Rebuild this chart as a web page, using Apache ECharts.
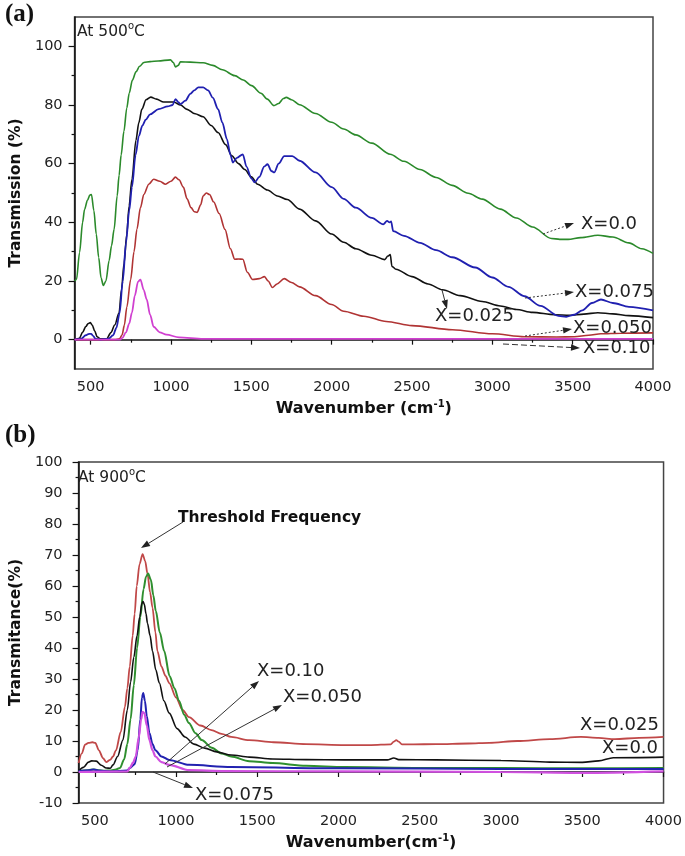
<!DOCTYPE html>
<html>
<head>
<meta charset="utf-8">
<script src="https://cdn.jsdelivr.net/npm/echarts@6/dist/echarts.min.js"></script>
<style>html,body{margin:0;padding:0;background:#fff}#c{width:685px;height:856px}</style>
</head>
<body>
<div id="c"></div>
<script>
// ---------- Panel (a): At 500 °C ----------
const A_WN_X000 = [400,412,431,450,462,480,495,505,520,535,550,565,579,595,615,630,646,665,677,690,707,725,740,760,782,805,831,870,920,997,1015,1028,1045,1059,1120,1200,1260,1320,1397,1450,1502,1560,1600,1640,1670,1700,1717,1750,1800,1900,2000,2075,2150,2250,2364,2450,2550,2650,2750,2850,2937,3050,3150,3250,3368,3420,3472,3550,3657,3750,3850,3930,4000];
const A_T_X000  = [20,20.5,29.7,40,44.4,47.5,49.3,49.5,44,36,28,21,18.5,20,27,32,37.6,49,56,63,71,79,84,88.5,91.3,93.2,94.5,94.8,95,95.4,94.5,93,93.5,94.7,94.6,94.4,93.5,92,90,88.5,86.6,84,82,79.8,80.5,82.2,82.6,81.8,80.1,77.1,74.1,71.8,69.8,67,63.2,60.8,58,55.3,52.6,49.9,47.9,44.5,41.5,38.4,34.5,34.2,34.2,34.8,35.6,35,33,31,29.4];

const A_WN_X025 = [400,430,450,470,485,498,510,525,540,560,600,626,650,677,692,708,725,739,757,782,800,819,845,874,910,954,1016,1060,1096,1150,1200,1250,1293,1340,1379,1420,1459,1500,1539,1600,1662,1724,1800,1900,2000,2075,2150,2250,2330,2350,2365,2375,2400,2500,2600,2690,2800,2937,3050,3150,3250,3388,3480,3570,3657,3750,3850,4000];
const A_T_X025  = [0,0.5,2.5,4.5,5.5,5.8,5,3,1,0.3,0.3,2.4,5,9.2,17,26,36,45.5,54.7,68,74,78.6,81.8,82.7,82,81,81,80,78.6,77,76,73,70.6,66.5,62.7,60,58,55.5,53,51,49,47.8,44.5,40.5,36,33.2,31,28.8,27.3,28.5,29,25,24,21.5,19,17,15,13,11.5,10.3,9.3,8.5,8.3,8.7,9.2,8.8,8.2,7.5];

const A_WN_X050 = [400,650,680,696,710,725,749,770,788,810,831,862,892,930,966,1000,1028,1050,1077,1100,1125,1145,1163,1185,1200,1220,1240,1265,1300,1336,1370,1397,1420,1447,1475,1508,1550,1582,1605,1631,1660,1705,1750,1800,1900,2000,2075,2200,2340,2500,2752,3000,3200,3400,3510,3600,3676,3800,4000];
const A_T_X050  = [0,0,0.3,1.7,5,11,20.5,30,37.6,45,49.5,53,54.7,54,53,54,55.4,54.5,52,48,45,43.6,43.4,46,49,50,49.5,47,43,37.6,31,27.4,27.5,27.4,23,20.5,20.8,21.5,20,17.8,19,20.8,19.5,18,15,12,9.7,8,6.2,4.8,3.4,2,1,0.9,1,1.5,2,2.2,2.3];

const A_WN_X075 = [400,440,470,490,503,515,530,560,610,640,660,680,700,720,740,757,780,800,822,843,870,923,980,1010,1028,1045,1059,1090,1120,1145,1170,1200,1231,1260,1293,1320,1348,1370,1385,1410,1447,1470,1500,1521,1550,1580,1601,1625,1643,1670,1705,1755,1800,1900,2000,2075,2150,2250,2321,2345,2360,2370,2383,2450,2550,2650,2750,2894,3000,3100,3200,3300,3411,3460,3510,3560,3620,3676,3750,3850,4000];
const A_T_X075  = [0,0.3,1.5,2,2,1.3,0.3,0,0.3,1.5,4,9,20,33,44,52,63,69.4,73,75,76.8,78.6,79.5,80,82,81,80.3,81.5,83.8,85,86,86,85,82.5,78.6,74,68.4,63,60.4,62,63.2,59,55,53.6,55.5,59,59.8,57.5,57,60,62.6,62.6,61,57,52,48,45,41.5,39.3,40.5,40,40.3,37,35.4,33,30.5,28.1,24.6,21.2,18,14.8,11.5,8.1,7.8,8.5,10,12.5,13.7,12.5,11.2,10];

const A_WN_X100 = [400,680,696,720,740,757,775,795,810,830,849,870,892,930,972,1050,1200,1600,2500,3500,4000];
const A_T_X100  = [0,0,0.5,2.5,5.5,9.2,15,19.8,20.5,17,13.7,8.5,4.4,2.5,1.7,0.8,0.3,0.3,0.3,0.3,0.3];

// ---------- Panel (b): At 900 °C ----------
const B_WN_X025 = [400,420,440,461,485,503,525,550,570,594,612,630,660,685,700,715,733,745,758,775,794,810,824,840,855,873,885,910,935,958,1000,1040,1079,1150,1218,1280,1339,1450,1600,1800,2036,2200,2321,2340,2355,2370,2390,2450,2600,2800,2927,3100,3300,3491,3600,3700,3850,4000];
const B_T_X025  = [2.9,6,8.8,9.4,9.6,9.4,7,4.5,3.2,3.9,5,7,13,21,27,34,44,51,60,67,70.3,68,64,58,53,45,39,34,31,28.7,24,20,17.7,15,13.5,12.3,11.3,10.3,9.6,9,8.7,8.7,8.9,9.8,10.3,9.8,8.9,8.9,9,9.2,9.4,10,10.6,11.3,11,10.6,11,11.3];

const B_WN_X050 = [400,460,490,520,560,600,630,655,680,700,720,740,760,780,800,815,828,845,860,875,900,927,960,990,1018,1050,1079,1120,1158,1220,1279,1339,1450,1594,1800,2036,2500,3000,3500,4000];
const B_T_X050  = [0.3,0.6,0.8,0.6,0.4,0.5,0.8,1.3,4,9,17,28,40,50,59,63,64,62,57,52,45,39,31,27,23,18.5,15.8,12.5,10.3,7.8,6,5,3.5,2.9,2,1.6,1.3,1.3,1.2,1.3];

const B_WN_X000 = [400,430,461,480,509,540,570,595,612,640,673,700,720,740,760,776,790,797,805,815,824,840,855,875,897,925,958,1006,1055,1110,1176,1250,1339,1450,1594,1800,2036,2300,2340,2370,2600,3000,3300,3500,3600,3691,4000];
const B_T_X000  = [0.3,1.5,3.2,3.6,3.5,2.2,1.3,1.2,2.3,5,10.3,20,29,37,44,50,54.5,55,54,51,48,44,39,33,28.7,23,19,14,11.3,9,7.7,6.5,5.5,4.8,4.2,4,3.9,3.9,4.5,4,3.9,3.7,3.2,3.1,3.6,4.6,4.8];

const B_WN_X100 = [400,470,495,520,600,700,715,745,764,780,790,798,808,820,836,855,873,910,958,1079,1339,2000,3000,4000];
const B_T_X100  = [0.3,0.6,0.8,0.5,0.2,0.5,1.3,2.5,7,17,24,25.5,23,18,12.6,9,7,5,3.9,2.3,1.6,1.2,1,1];

const B_WN_X075 = [400,700,715,735,752,770,785,794,805,820,836,855,873,910,958,1079,1300,2000,3000,3500,4000];
const B_T_X075  = [0,0.2,1.3,3,5,11,17,19.4,19,15,10.3,7,5,3.2,2.3,0.6,0.3,0.2,0,-0.3,0.2];

// ---------- Ticks ----------
const X_LABELS = [500,1000,1500,2000,2500,3000,3500,4000];
const X_MINOR  = [750,1250,1750,2250,2750,3250,3750];
const A_Y_LABELS = [0,20,40,60,80,100];
const A_Y_MINOR  = [10,30,50,70,90];
const B_Y_LABELS = [-10,0,10,20,30,40,50,60,70,80,90,100];
const B_Y_MINOR  = [-5,5,15,25,35,45,55,65,75,85,95];

const zip = (xs, ys) => xs.map((x, i) => [x, ys[i]]);
const FONT = 'DejaVu Sans';
const plain = v => String(v);

const chart = echarts.init(document.getElementById('c'), null, {renderer: 'canvas', width: 685, height: 856});

function mainX(grid, name) {
  return {
    type: 'value', gridIndex: grid, min: 400, max: 4000, position: 'bottom',
    name: name, nameLocation: 'middle', nameGap: 30,
    nameTextStyle: {fontFamily: FONT, fontWeight: 'bold', fontSize: 16, color: '#111',
      rich: {s: {fontFamily: FONT, fontWeight: 'bold', fontSize: 10, padding: [0, 0, 10, 0], color: '#111'}}},
    axisLine: {show: true, lineStyle: {color: '#111', width: 1.5}},
    axisTick: {show: true, inside: false, length: 5, customValues: X_LABELS, lineStyle: {color: '#111', width: 1.2}},
    axisLabel: {customValues: X_LABELS, formatter: plain, fontFamily: FONT, fontSize: 14.5, color: '#222', margin: 11},
    splitLine: {show: false}
  };
}
function minorX(grid) {
  return {
    type: 'value', gridIndex: grid, min: 400, max: 4000, position: 'bottom', offset: 0,
    axisLine: {show: false},
    axisTick: {show: true, length: 3, customValues: X_MINOR, lineStyle: {color: '#111', width: 1.2}},
    axisLabel: {show: false}, splitLine: {show: false}
  };
}
function mainY(grid, min, max, labels, name, margin) {
  return {
    type: 'value', gridIndex: grid, min: min, max: max, position: 'left',
    name: name, nameLocation: 'middle', nameGap: 47,
    nameTextStyle: {fontFamily: FONT, fontWeight: 'bold', fontSize: 15.5, color: '#111'},
    axisLine: {show: true, lineStyle: {color: '#111', width: 1.5}},
    axisTick: {show: true, length: 6, customValues: labels, lineStyle: {color: '#111', width: 1.2}},
    axisLabel: {customValues: labels, formatter: plain, fontFamily: FONT, fontSize: 14.5, color: '#222', margin: margin},
    splitLine: {show: false}
  };
}
function minorY(grid, min, max, vals) {
  return {
    type: 'value', gridIndex: grid, min: min, max: max, position: 'left', offset: 0,
    axisLine: {show: false},
    axisTick: {show: true, length: 3, customValues: vals, lineStyle: {color: '#111', width: 1.2}},
    axisLabel: {show: false}, splitLine: {show: false}
  };
}

function line(name, xi, yi, xs, ys, color, width) {
  return {
    name: name, type: 'line', xAxisIndex: xi, yAxisIndex: yi,
    data: zip(xs, ys), showSymbol: false, smooth: 0.3, smoothMonotone: 'x',
    lineStyle: {color: color, width: width}, itemStyle: {color: color}, silent: true
  };
}

// annotation helpers (pixel space)
function arrow(x1, y1, x2, y2, dash) {
  const a = Math.atan2(y2 - y1, x2 - x1), L = 9, W = 3.2;
  const c = Math.cos(a), s = Math.sin(a);
  const bx = x2 - L * c, by = y2 - L * s;
  return [
    {type: 'line', shape: {x1: x1, y1: y1, x2: bx, y2: by},
     style: {stroke: '#333', lineWidth: 1, lineDash: dash || null}, z: 100},
    {type: 'polygon', shape: {points: [[x2, y2], [bx - W * s, by + W * c], [bx + W * s, by - W * c]]},
     style: {fill: '#222'}, z: 100}
  ];
}
function label(x, y, text, opts) {
  return {type: 'text', x: x, y: y, z: 100,
    style: Object.assign({text: text, fontFamily: FONT, fontSize: 18, fill: '#222',
      textAlign: 'left', textVerticalAlign: 'middle'}, opts || {})};
}
const supRich = {s: {fontFamily: FONT, fontSize: 10, fill: '#222', padding: [0, 0, 11, 0]}};

const graphics = [
  label(5, 15, '(a)', {fontFamily: 'Liberation Serif', fontWeight: 'bold', fontSize: 25, fill: '#111'}),
  label(5, 436, '(b)', {fontFamily: 'Liberation Serif', fontWeight: 'bold', fontSize: 25, fill: '#111'}),
  label(77, 32, 'At 500{s|o}C', {fontSize: 15.5, rich: supRich}),
  label(78, 478, 'At 900{s|o}C', {fontSize: 15.5, rich: supRich}),
  // panel (a)
  ...arrow(543, 234, 574, 223, [2, 2]), label(581, 224, 'X=0.0'),
  ...arrow(525, 298, 574, 292, [2, 2]), label(575, 292, 'X=0.075'),
  ...arrow(442, 290, 447, 309, null), label(435, 316, 'X=0.025'),
  ...arrow(525, 336, 572, 329, [2, 2]), label(573, 328, 'X=0.050'),
  ...arrow(503, 344, 580, 348, [6, 3]), label(583, 348, 'X=0.10'),
  // panel (b)
  label(178, 518, 'Threshold Frequency', {fontWeight: 'bold', fontSize: 15.5, fill: '#111'}),
  ...arrow(183, 522, 141, 548, null),
  ...arrow(165, 764, 259, 681, null), label(257, 671, 'X=0.10'),
  ...arrow(167, 767, 282, 705, null), label(283, 697, 'X=0.050'),
  ...arrow(153, 772, 193, 788, null), label(195, 795, 'X=0.075'),
  label(580, 725, 'X=0.025'),
  label(602, 748, 'X=0.0')
];

const option = {
  animation: false,
  backgroundColor: '#fff',
  grid: [
    {left: 68, top: 17, width: 585, height: 352, show: true, borderColor: '#444', borderWidth: 1.5, backgroundColor: 'transparent'},
    {left: 70, top: 462, width: 595, height: 341, show: true, borderColor: '#444', borderWidth: 1.5, backgroundColor: 'transparent'}
  ],
  xAxis: [
    mainX(0, 'Wavenumber (cm{s|-1})'), minorX(0),
    mainX(1, 'Wavenumber(cm{s|-1})'), minorX(1)
  ],
  yAxis: [
    mainY(0, -10, 110, A_Y_LABELS, 'Transmission (%)', 12), minorY(0, -10, 110, A_Y_MINOR),
    mainY(1, -10, 100, B_Y_LABELS, 'Transmitance(%)', 16), minorY(1, -10, 100, B_Y_MINOR)
  ],
  series: [
    line('X=0.0',   0, 0, A_WN_X000, A_T_X000, '#2b8a2b', 1.6),
    line('X=0.025', 0, 0, A_WN_X025, A_T_X025, '#111111', 1.6),
    line('X=0.050', 0, 0, A_WN_X050, A_T_X050, '#b03434', 1.6),
    line('X=0.075', 0, 0, A_WN_X075, A_T_X075, '#2020b0', 1.8),
    line('X=0.10',  0, 0, A_WN_X100, A_T_X100, '#d040d0', 1.8),
    line('X=0.025', 2, 2, B_WN_X025, B_T_X025, '#c04848', 1.8),
    line('X=0.050', 2, 2, B_WN_X050, B_T_X050, '#2f8f2f', 2),
    line('X=0.0',   2, 2, B_WN_X000, B_T_X000, '#111111', 1.6),
    line('X=0.10',  2, 2, B_WN_X100, B_T_X100, '#2222b0', 2),
    line('X=0.075', 2, 2, B_WN_X075, B_T_X075, '#d050e0', 2.2)
  ],
  graphic: graphics
};
chart.setOption(option);
</script>
</body>
</html>
